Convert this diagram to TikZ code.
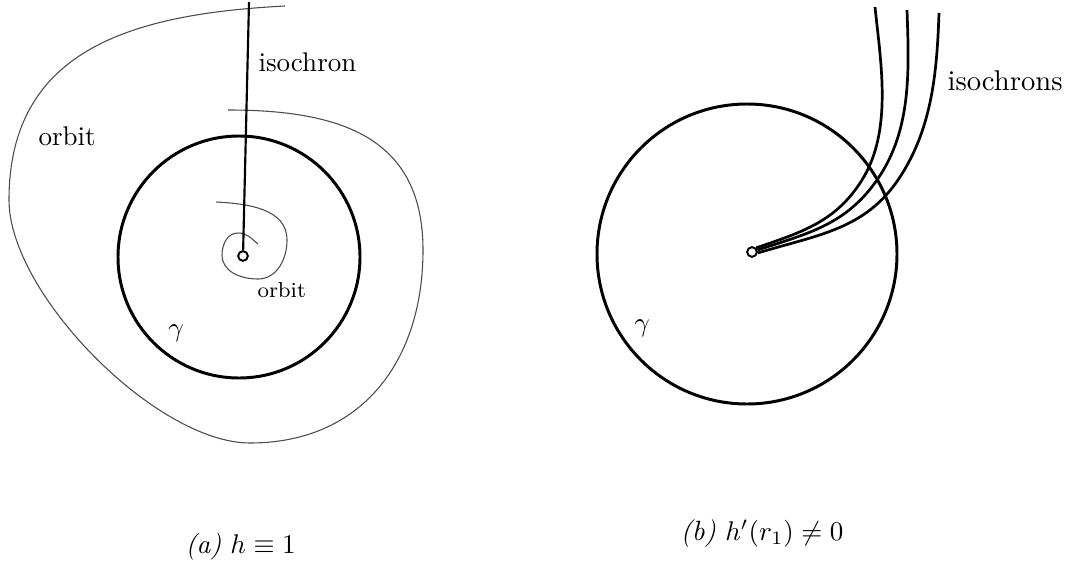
\documentclass[tikz,border=0pt]{standalone}
\usepackage{amsmath}
\usetikzlibrary{positioning}
\tikzset{
  limcyc/.style = {line width=1.1pt, draw=black},
  orb/.style    = {line width=0.4pt, draw=black!70},
  iso/.style    = {line width=0.8pt, draw=black},
  isos/.style   = {line width=1pt, draw=black},
  fixpt/.style  = {circle, draw=black, fill=white, line width=0.7pt,
                   minimum size=3.6pt, inner sep=0pt},
  lbl/.style    = {inner sep=0pt, font=\normalsize},
}
\begin{document}
\begin{tikzpicture}[x=0.37pt, y=-0.37pt]
  \useasboundingbox (0,0) rectangle (1068,562);

  % (a) h = 1
  \coordinate (ca) at (239,257);
  \draw[limcyc] (ca) circle (121);
  \draw[orb] (285,6) to[out=183, in=90, looseness=1.15] (9,200)
    to[out=270, in=180, looseness=0.7] (250,443)
    to[out=0, in=270, looseness=1.1] (423,250)
    to[out=90, in=0, looseness=1.2] (228,110);
  \draw[orb] (216,202) to[out=-3, in=90] (287,240)
    to[out=270, in=0] (258,279)
    to[out=180, in=270] (222,255)
    to[out=90, in=180] (238,233)
    to[out=0, in=140] (258,244);
  \coordinate (isotop) at (249,2);
  \node[fixpt] (pa) at (243,256) {};
  \draw[iso] (isotop) -- (pa);

  \node[lbl, anchor=base west] (isolbl) at (258,72) {isochron};
  \node[lbl, anchor=base west] (orblbl) at (38,145) {orbit};
  \node[lbl, anchor=base west, font=\footnotesize] (orbsm) at (257,297) {orbit};
  \node[lbl] (gama) at (176,333) {$\gamma$};
  \node[lbl, anchor=base west] (capa) at (185,553) {\textit{(a)} $h \equiv 1$};

  % (b) h'(r_1) != 0
  \coordinate (cb) at (747,254);
  \draw[limcyc] (cb) circle (150);
  \node[fixpt] (pb) at (752,252) {};
  \coordinate (i1) at (875,7);
  \coordinate (i2) at (907,10);
  \coordinate (i3) at (939,13);
  \draw[isos] (pb.45) to[out=19, in=238] (862,180)
    to[out=58, in=-84, looseness=0.85] (i1);
  \draw[isos] (pb.20) to[out=18, in=235] (877,180)
    to[out=55, in=-88, looseness=0.9] (i2);
  \draw[isos] (pb.350) to[out=17, in=237] (900,177)
    to[out=57, in=-92, looseness=0.9] (i3);

  \node[lbl, anchor=base west, font=\fontsize{10.6pt}{13pt}\selectfont]
    (isoslbl) at (947,90) {isochrons};
  \node[lbl] (gamb) at (642,328) {$\gamma$};
  \node[lbl, anchor=base west, font=\fontsize{10.3pt}{13pt}\selectfont]
    (capb) at (680,540) {\textit{(b)} $h'(r_1) \neq 0$};
\end{tikzpicture}
\end{document}
